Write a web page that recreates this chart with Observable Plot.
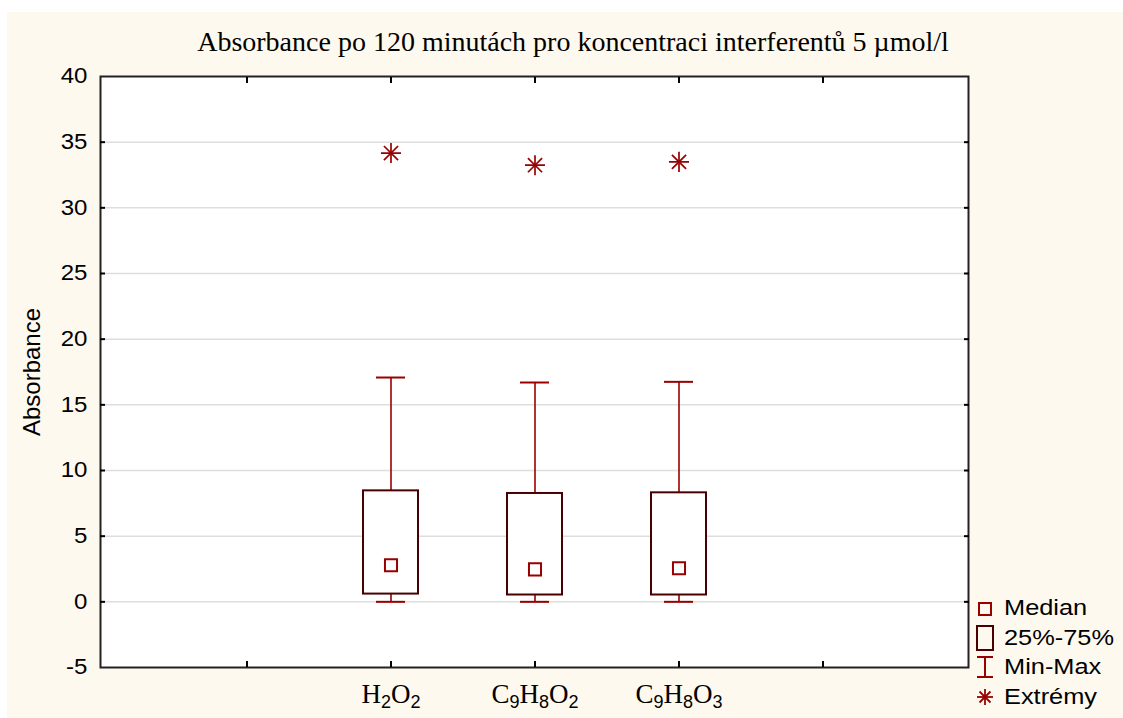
<!DOCTYPE html>
<html>
<head>
<meta charset="utf-8">
<script src="https://cdn.jsdelivr.net/npm/d3@7"></script>
<script src="https://cdn.jsdelivr.net/npm/@observablehq/plot@0.6"></script>
<style>
  html, body { margin: 0; padding: 0; background: #ffffff; }
  #wrap { position: relative; width: 1123px; height: 718px; overflow: hidden; }
  #bg { position: absolute; left: 7px; top: 12px; right: 0; bottom: 0; background: #fef9ee; }
  #chart { position: absolute; left: 0; top: 0; }
  #title { position: absolute; left: 0; width: 1146px; top: 26px; text-align: center;
           font-family: "Liberation Serif", "Times New Roman", serif; font-size: 28px; color: #000; white-space: nowrap; }
  #ylabel { position: absolute; left: 32px; top: 372px; transform: translate(-50%, -50%) rotate(-90deg);
            font-family: "Liberation Sans", Arial, sans-serif; font-size: 24px; color: #000; white-space: nowrap; }
  #legend { position: absolute; left: 974px; top: 594px; font-family: "Liberation Sans", Arial, sans-serif; font-size: 21.5px; color: #000; }
  .li { display: flex; align-items: center; height: 29.5px; }
  .li svg { width: 22px; height: 28px; margin-right: 8px; flex: none; }
  .li span { display: inline-block; transform: scaleX(1.18); transform-origin: left center; white-space: nowrap; }
</style>
</head>
<body>
<div id="wrap">
  <div id="bg"></div>
  <div id="chart"></div>
  <div id="title"></div>
  <div id="ylabel"></div>
  <div id="legend"></div>
</div>
<script>
// ---- data ----
const titleText = "Absorbance po 120 minutách pro koncentraci interferentů 5 µmol/l";
const yLabel = "Absorbance";
const slots = ["", "H2O2", "C9H8O2", "C9H8O3", " "];   // x-axis positions (outer ones empty)
const categories = ["H2O2", "C9H8O2", "C9H8O3"];
const minVals   = [0.0, 0.0, 0.0];
const q1Vals    = [0.59, 0.52, 0.52];
const medians   = [2.78, 2.47, 2.55];
const q3Vals    = [8.45, 8.25, 8.3];
const maxVals   = [17.08, 16.7, 16.75];
const extremes  = [34.17, 33.25, 33.5];
const yTicks = [-5, 0, 5, 10, 15, 20, 25, 30, 35, 40];
const legendItems = ["Median", "25%-75%", "Min-Max", "Extrémy"];

const table = categories.map((c, i) => ({
  cat: c, min: minVals[i], q1: q1Vals[i], med: medians[i], q3: q3Vals[i], max: maxVals[i], ext: extremes[i]
}));

const red = "#990000";
const dark = "#4a0000";

const plot = Plot.plot({
  width: 1123,
  height: 718,
  marginLeft: 100,
  marginRight: 155,
  marginTop: 76,
  marginBottom: 51,
  style: { background: "transparent", overflow: "visible" },
  x: { type: "band", domain: slots, paddingInner: 0.62, paddingOuter: 0.81, label: null },
  y: { domain: [-5, 40], label: null },
  marks: [
    Plot.frame({ fill: "#fff", stroke: "none" }),
    Plot.gridY(yTicks.filter(d => d > -5 && d < 40), { stroke: "#dedede", strokeOpacity: 1, strokeWidth: 1.5 }),
    // whiskers
    Plot.ruleX(table, { x: "cat", y1: "min", y2: "q1", stroke: red, strokeWidth: 1.6 }),
    Plot.ruleX(table, { x: "cat", y1: "q3", y2: "max", stroke: red, strokeWidth: 1.6 }),
    Plot.tickY(table, { x: "cat", y: "min", stroke: red, strokeWidth: 2, insetLeft: 13, insetRight: 13 }),
    Plot.tickY(table, { x: "cat", y: "max", stroke: red, strokeWidth: 2, insetLeft: 13, insetRight: 13 }),
    // boxes
    Plot.rect(table, { x: "cat", y1: "q1", y2: "q3", fill: "#fff", stroke: dark, strokeWidth: 2 }),
    // medians
    Plot.dot(table, { x: "cat", y: "med", symbol: "square", r: 6.8, fill: "#fff", stroke: red, strokeWidth: 2 }),
    // extremes
    Plot.dot(table, { x: "cat", y: "ext", symbol: "plus", r: 6.5, fill: "none", stroke: red, strokeWidth: 1.7 }),
    Plot.dot(table, { x: "cat", y: "ext", symbol: "times", r: 6.5, fill: "none", stroke: red, strokeWidth: 1.7 }),
    // frame + ticks
    Plot.frame({ stroke: "#222", strokeWidth: 2 }),
    Plot.axisY(yTicks, { anchor: "left", tickSize: 0, tickPadding: 13, fontSize: 21.5, fontFamily: "Liberation Sans, Arial, sans-serif", fill: "#000", tickFormat: d => String(d) }),
    Plot.axisY(yTicks.slice(1, -1), { anchor: "left", tickSize: -5, tickFormat: () => "", stroke: "#000", strokeWidth: 2 }),
    Plot.axisY(yTicks.slice(1, -1), { anchor: "right", tickSize: -5, tickFormat: () => "", stroke: "#000", strokeWidth: 2 }),
    Plot.axisX(slots, { anchor: "top", tickSize: -6, tickFormat: () => "", stroke: "#000", strokeWidth: 2 }),
    Plot.axisX(slots, { anchor: "bottom", tickSize: -6, tickFormat: () => "", stroke: "#000", strokeWidth: 2 }),
    Plot.axisX(categories, { anchor: "bottom", tickSize: 0, tickPadding: 16, fontSize: 27, fontFamily: "Liberation Serif, Times New Roman, serif", fill: "#000" })
  ]
});

document.getElementById("chart").appendChild(plot);
document.getElementById("title").textContent = titleText;
document.getElementById("ylabel").textContent = yLabel;

// slightly wider y tick labels (as in the reference rendering)
d3.select(plot).selectAll("g[aria-label='y-axis tick label'] text").each(function () {
  const t = d3.select(this);
  const tr = t.attr("transform") || "";
  t.attr("transform", tr + " scale(1.12,1)");
});

// chemical subscripts in x labels
d3.select(plot).selectAll("g[aria-label='x-axis tick label'] text").each(function () {
  const t = d3.select(this);
  const s = t.text();
  if (!s.trim()) return;
  t.text("");
  const parts = s.match(/[A-Za-z]+|\d+/g) || [];
  let sub = false;
  parts.forEach(p => {
    const isDigit = /\d/.test(p);
    const ts = t.append("tspan").text(p);
    if (isDigit) {
      ts.attr("font-family", "Liberation Sans, Arial, sans-serif").attr("font-size", 18);
      if (!sub) ts.attr("dy", 5);
      sub = true;
    } else {
      if (sub) ts.attr("dy", -5);
      sub = false;
    }
  });
});

// legend
const sym = {
  "Median": `<rect x="5" y="8" width="12" height="12" fill="none" stroke="${red}" stroke-width="2"/>`,
  "25%-75%": `<rect x="3" y="2" width="16" height="24" fill="none" stroke="${dark}" stroke-width="2"/>`,
  "Min-Max": `<line x1="3" y1="3" x2="19" y2="3" stroke="${red}" stroke-width="2"/><line x1="11" y1="3" x2="11" y2="23" stroke="${red}" stroke-width="2"/><line x1="3" y1="23" x2="19" y2="23" stroke="${red}" stroke-width="2"/>`,
  "Extrémy": `<g stroke="${red}" stroke-width="1.8"><line x1="11" y1="6" x2="11" y2="22"/><line x1="3" y1="14" x2="19" y2="14"/><line x1="5.5" y1="8.5" x2="16.5" y2="19.5"/><line x1="16.5" y1="8.5" x2="5.5" y2="19.5"/></g>`
};
const leg = d3.select("#legend");
legendItems.forEach(name => {
  const row = leg.append("div").attr("class", "li");
  row.append("svg").attr("viewBox", "0 0 22 28").html(sym[name]);
  row.append("span").text(name);
});
</script>
</body>
</html>
